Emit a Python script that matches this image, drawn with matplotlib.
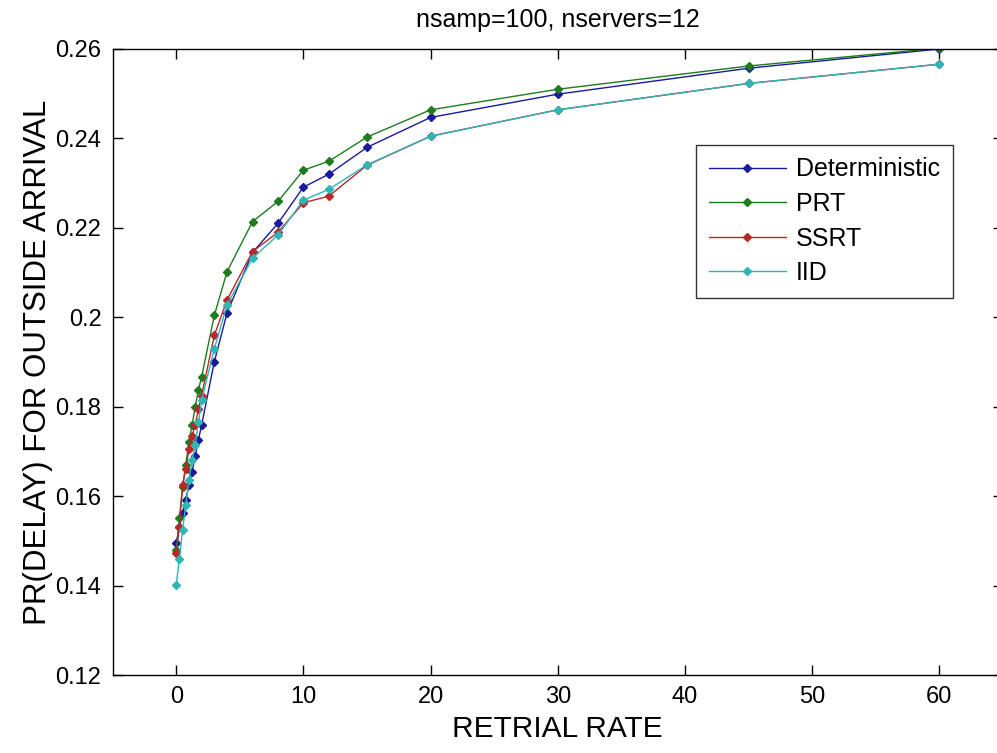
import matplotlib
matplotlib.use("Agg")
import matplotlib.pyplot as plt
from matplotlib.ticker import FixedLocator, FuncFormatter

retrial_rate = [0, 0.25, 0.5, 0.75, 1, 1.25, 1.5, 1.75, 2, 3, 4, 6, 8, 10, 12, 15, 20, 30, 45, 60]

deterministic = [0.1495, 0.1530, 0.1562, 0.1592, 0.1625, 0.1655, 0.1690, 0.1726, 0.1759, 0.1901,
                 0.2010, 0.2145, 0.2210, 0.2291, 0.2320, 0.2380, 0.2447, 0.2499, 0.2557, 0.2600]
prt = [0.1480, 0.1550, 0.1620, 0.1670, 0.1720, 0.1760, 0.1800, 0.1838, 0.1867, 0.2005,
       0.2102, 0.2214, 0.2259, 0.2329, 0.2349, 0.2403, 0.2464, 0.2510, 0.2562, 0.2602]
ssrt = [0.1472, 0.1530, 0.1625, 0.1660, 0.1705, 0.1735, 0.1760, 0.1795, 0.1825, 0.1960,
        0.2039, 0.2147, 0.2190, 0.2256, 0.2271, 0.2340, 0.2405, 0.2464, 0.2523, 0.2566]
iid = [0.1401, 0.1460, 0.1524, 0.1580, 0.1636, 0.1680, 0.1715, 0.1765, 0.1815, 0.1930,
       0.2028, 0.2132, 0.2184, 0.2262, 0.2286, 0.2341, 0.2405, 0.2464, 0.2523, 0.2566]

series_names = ["Deterministic", "PRT", "SSRT", "IID"]
series_colors = ["#1a1a9c", "#1e7b1e", "#b82828", "#2fb5b5"]

x_ticks = [0, 10, 20, 30, 40, 50, 60]
y_ticks = [0.12, 0.14, 0.16, 0.18, 0.20, 0.22, 0.24, 0.26]

plt.rcParams['font.family'] = ['Liberation Sans', 'DejaVu Sans']

W, H = 997, 753
fig = plt.figure(figsize=(W / 100, H / 100), dpi=100)
left, right, bottom, top = 112.6, 1003, 675, 49
ax = fig.add_axes([left / W, 1 - bottom / H, (right - left) / W, (bottom - top) / H])

for vals, name, col in zip([deterministic, prt, ssrt, iid], series_names, series_colors):
    ax.plot(retrial_rate, vals, '-', color=col, lw=1.0, marker='D', ms=4.5,
            mfc=col, mec=col, label=name)

ax.set_xlim(-5, 65)
ax.set_ylim(0.12, 0.26)
ax.xaxis.set_major_locator(FixedLocator(x_ticks))
ax.yaxis.set_major_locator(FixedLocator(y_ticks))
ax.yaxis.set_major_formatter(FuncFormatter(lambda v, p: ('%g' % round(v, 4))))
ax.tick_params(direction='in', length=7, width=1, top=True, right=True,
               labelsize=17, pad=8, colors='black')
for s in ax.spines.values():
    s.set_linewidth(1.0)
    s.set_color('black')

ax.set_title("nsamp=100, nservers=12", fontsize=18, pad=16)
ax.set_xlabel("RETRIAL RATE", fontsize=21.5, labelpad=5)
ax.set_ylabel("PR(DELAY) FOR OUTSIDE ARRIVAL", fontsize=22.5, labelpad=2)

leg = ax.legend(loc='upper left', bbox_to_anchor=(696 / W, 1 - 145 / H),
                bbox_transform=fig.transFigure, fontsize=18, frameon=True,
                fancybox=False, shadow=False, borderaxespad=0, borderpad=0.5,
                handlelength=3.1, handletextpad=0.4, labelspacing=0.42, markerscale=0.9)
leg.get_frame().set_edgecolor('black')
leg.get_frame().set_linewidth(1.0)

fig.savefig("out.png", dpi=100)
